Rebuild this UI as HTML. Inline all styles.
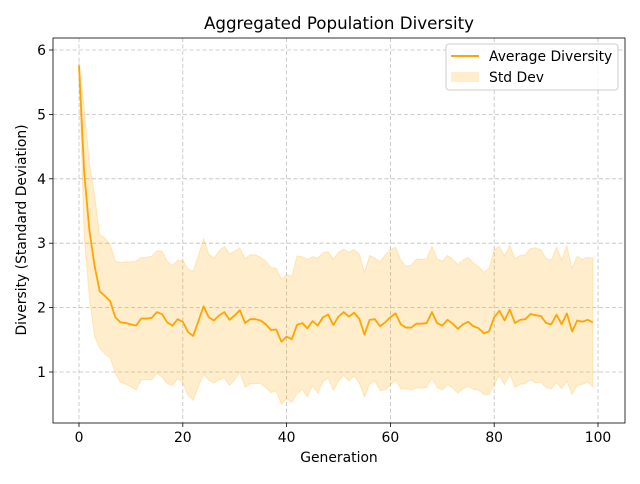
<!DOCTYPE html>
<html><head><meta charset="utf-8"><style>
body{margin:0;background:#fff;font-family:"DejaVu Sans","Liberation Sans",sans-serif;}
svg text{font-family:"DejaVu Sans","Liberation Sans",sans-serif;}
</style></head><body>
<svg id="chart" width="640" height="480" viewBox="0 0 640 480" xmlns="http://www.w3.org/2000/svg">
<rect width="640" height="480" fill="#fff"/>
<g id="grid"></g><g id="series"></g><g id="axes"></g>
<text x="339" y="29" text-anchor="middle" font-size="16.7">Aggregated Population Diversity</text>
<text x="339" y="462" text-anchor="middle" font-size="13.9">Generation</text>
<text transform="translate(26,230) rotate(-90)" text-anchor="middle" font-size="13.9">Diversity (Standard Deviation)</text>
<g>
<rect x="446" y="44" width="172" height="46" rx="3" fill="#fff" fill-opacity="0.85" stroke="#ccc"/>
<line x1="451" y1="56" x2="479" y2="56" stroke="#ffa500" stroke-width="2"/>
<text x="489" y="61" font-size="13.9">Average Diversity</text>
<rect x="451" y="72" width="28" height="10" fill="#ffa500" fill-opacity="0.2"/>
<text x="489" y="82" font-size="13.9">Std Dev</text>
</g>
</svg>
<script>
const generations = Array.from({length:100},(_, i)=>i);
const meanValues = [5.76,4.1,3.2,2.65,2.25,2.18,2.1,1.85,1.77,1.76,1.74,1.72,1.83,1.83,1.84,1.93,1.9,1.77,1.72,1.82,1.78,1.62,1.56,1.79,2.02,1.85,1.8,1.88,1.93,1.81,1.88,1.96,1.76,1.82,1.82,1.8,1.74,1.65,1.66,1.47,1.55,1.51,1.73,1.76,1.68,1.79,1.72,1.85,1.89,1.73,1.86,1.93,1.86,1.92,1.83,1.58,1.81,1.82,1.71,1.77,1.85,1.91,1.74,1.69,1.69,1.75,1.75,1.76,1.93,1.76,1.72,1.81,1.75,1.67,1.74,1.78,1.71,1.68,1.6,1.63,1.85,1.95,1.8,1.97,1.76,1.81,1.82,1.9,1.88,1.87,1.76,1.74,1.89,1.74,1.91,1.63,1.8,1.78,1.81,1.77];
const stdValues = [0.08,1.0,1.05,1.1,0.88,0.9,0.88,0.87,0.93,0.95,0.97,1.0,0.95,0.95,0.96,0.95,0.98,0.95,0.93,0.92,0.95,0.98,1.0,1.02,1.05,0.98,0.97,1.0,1.02,1.02,1.0,0.96,1.0,1.0,1.0,0.98,0.98,0.97,0.95,0.97,0.96,0.98,1.07,1.03,1.07,1.0,1.05,1.0,0.98,1.02,1.0,0.98,1.0,0.98,1.0,0.97,1.0,0.95,1.0,1.05,1.05,1.03,1.0,0.95,0.97,1.0,1.0,1.0,1.02,1.0,1.0,1.0,1.0,1.0,1.0,1.0,0.98,0.96,0.95,0.98,1.05,1.0,1.0,1.0,1.0,1.0,1.0,1.02,1.05,1.03,1.0,1.0,1.05,1.0,1.05,0.98,1.0,0.97,0.97,1.0];
const xTicks = [0,20,40,60,80,100];
const yTicks = [1,2,3,4,5,6];
const L=53,R=625,T=38,B=423;
const xs = v => 79 + v*(598-79)/100;
const ys = v => 372 - (v-1)*(372-50)/5;
const NS="http://www.w3.org/2000/svg";
function mk(tag, attrs, parent){const e=document.createElementNS(NS,tag);for(const k in attrs)e.setAttribute(k,attrs[k]);parent.appendChild(e);return e;}
const grid=document.getElementById('grid'), ser=document.getElementById('series'), ax=document.getElementById('axes');
xTicks.forEach(t=>{
 const g=mk('line',{x1:xs(t),x2:xs(t),y1:T,y2:B,stroke:'#b0b0b0','stroke-dasharray':'4,2.5','stroke-width':0.8,opacity:0.8},grid);
 
 
 mk('line',{x1:xs(t),x2:xs(t),y1:B,y2:B+4,stroke:'#000','stroke-width':0.8},ax);
 const tx=mk('text',{x:xs(t),y:B+19,'text-anchor':'middle','font-size':13.9},ax);
 tx.textContent=t;
 
 
});
yTicks.forEach(t=>{
 const g=mk('line',{x1:L,x2:R,y1:ys(t),y2:ys(t),stroke:'#b0b0b0','stroke-dasharray':'4,2.5','stroke-width':0.8,opacity:0.8},grid);
 
 
 mk('line',{x1:L-4,x2:L,y1:ys(t),y2:ys(t),stroke:'#000','stroke-width':0.8},ax);
 const tx=mk('text',{x:L-7,y:ys(t)+5,'text-anchor':'end','font-size':13.9},ax);
 tx.textContent=t;
 
 
});
let up=generations.map((g,i)=>xs(g)+','+ys(meanValues[i]+stdValues[i]));
let lo=generations.map((g,i)=>xs(g)+','+ys(meanValues[i]-stdValues[i])).reverse();
const band=mk('polygon',{points:up.concat(lo).join(' '),fill:'#ffa500','fill-opacity':0.2,stroke:'#ffa500','stroke-opacity':0.2,'stroke-width':1},ser);


const line=mk('polyline',{points:generations.map((g,i)=>xs(g)+','+ys(meanValues[i])).join(' '),fill:'none',stroke:'#ffa500','stroke-width':1.8,'stroke-linejoin':'round'},ser);


const frame=mk('rect',{x:L,y:T,width:R-L,height:B-T,fill:'none',stroke:'#000','stroke-width':0.8},ax);


</script>
</body></html>
